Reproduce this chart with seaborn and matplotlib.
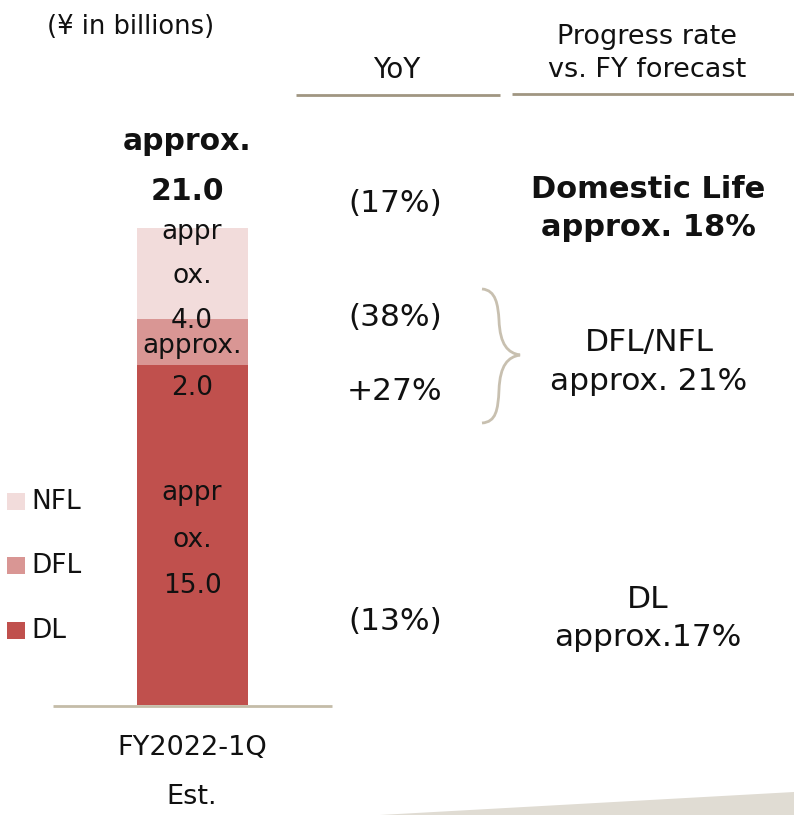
import matplotlib
matplotlib.use("Agg")
import matplotlib.pyplot as plt
import seaborn as sns
import pandas as pd
from matplotlib.patches import Rectangle, Polygon, PathPatch
from matplotlib.path import Path

# ---- data ----
category = ["FY2022-1Q\nEst."]
segments = ["DL", "DFL", "NFL"]
values = [15.0, 2.0, 4.0]
total = 21.0
colors = ["#C0504D", "#D99694", "#F2DCDB"]
yoy = ["(13%)", "(38%)", "+27%"]
yoy_total = "(17%)"
progress = [["DL", "approx.17%"], ["DFL/NFL", "approx. 21%"]]
progress_total = ["Domestic Life", "approx. 18%"]

sns.set_theme(style="white")
plt.rcParams['font.family'] = ['DejaVu Sans']

W, H = 794, 815
fig = plt.figure(figsize=(W / 100, H / 100), dpi=100)

# bar axes: baseline at y=705 px, 0..30 -> 681 px
ax = fig.add_axes([0, (H - 705) / H, 1, 681 / H])
cum = []
s = 0
for v in values:
    s += v
    cum.append(s)
for i in reversed(range(len(values))):
    df = pd.DataFrame({"cat": category, "val": [cum[i]]})
    sns.barplot(data=df, x="cat", y="val", color=colors[i], saturation=1,
                width=0.8, ax=ax, edgecolor="none")
ax.set_ylim(0, 30)
ax.set_xlim(-192.5 / 138.75, (W - 192.5) / 138.75)
ax.axis("off")

# overlay axes in pixel coordinates for annotations
ov = fig.add_axes([0, 0, 1, 1], facecolor="none")
ov.set_xlim(0, W)
ov.set_ylim(H, 0)
ov.axis("off")

ink = "#111111"

def t(x, y, s, size, bold=False, ha="center"):
    ov.text(x, y, s, ha=ha, va="center", fontsize=size, color=ink,
            fontweight="bold" if bold else "normal")

t(131, 27, "(¥ in billions)", 18.5)
t(397, 70, "YoY", 20)
t(647, 37, "Progress rate", 19.5)
t(647, 70, "vs. FY forecast", 19.5)
ov.plot([296, 500], [95, 95], color="#A09682", lw=2, solid_capstyle="butt")
ov.plot([512, 794], [94, 94], color="#A09682", lw=2, solid_capstyle="butt")

# total label
t(187, 142, "approx.", 21.5, bold=True)
t(187, 192, f"{total:.1f}", 21.5, bold=True)

# in-bar labels
ib = 19
t(192, 232, "appr", ib)
t(192, 276, "ox.", ib)
t(192, 321, f"{values[2]:.1f}", ib)
t(192, 346, "approx.", ib)
t(192, 388, f"{values[1]:.1f}", ib)
t(192, 493, "appr", ib)
t(192, 540, "ox.", ib)
t(192, 586, f"{values[0]:.1f}", ib)

# YoY column
yf = 22.5
t(395, 203, yoy_total, yf)
t(395, 318, yoy[1], yf)
t(395, 392, yoy[2], yf)
t(395, 622, yoy[0], yf)

# progress column
t(648, 189, progress_total[0], 22, bold=True)
t(648, 228, progress_total[1], 22, bold=True)
t(649, 343, progress[1][0], 22.5)
t(649, 381, progress[1][1], 22.5)
t(648, 600, progress[0][0], 22.5)
t(648, 637, progress[0][1], 22.5)

# brace
verts = [(482, 289),
         (496, 290), (498, 305), (499, 320),
         (500, 345), (508, 353), (520, 355),
         (508, 357), (500, 365), (499, 390),
         (498, 410), (496, 422), (482, 423)]
codes = [Path.MOVETO] + [Path.CURVE4] * 12
ov.add_patch(PathPatch(Path(verts, codes), facecolor="none", edgecolor="#C8C0B0", lw=2))

# legend
for (lab, col, yc) in [("NFL", colors[2], 501), ("DFL", colors[1], 565), ("DL", colors[0], 630)]:
    ov.add_patch(Rectangle((7, yc - 8), 18, 17, facecolor=col, edgecolor="none"))
    t(31, yc + 1, lab, 19, ha="left")

# baseline
ov.plot([53, 332], [706, 706], color="#C4BCA8", lw=2, solid_capstyle="butt")

# category label
cat_lines = category[0].split("\n")
t(192, 748, cat_lines[0], 19.5)
t(192, 797, cat_lines[1], 19.5)

# decorative bottom shape
ov.add_patch(Polygon([(380, 815), (794, 792), (794, 815)], closed=True,
                     facecolor="#E0DCD3", edgecolor="none"))

fig.savefig("out.png", dpi=100)
